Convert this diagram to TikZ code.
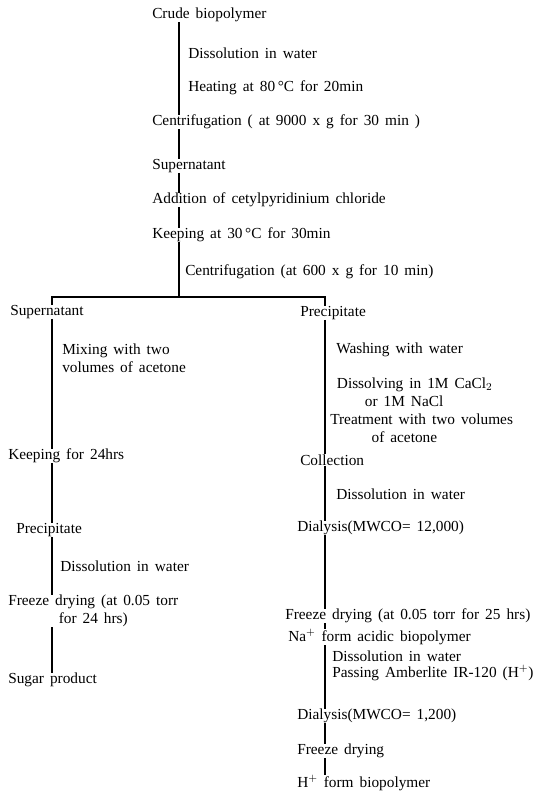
\documentclass[tikz,border=0pt]{standalone}
\usepackage{fontspec}
\setmainfont{Liberation Serif}
\usetikzlibrary{positioning,calc}
\newcommand{\flowfont}{\fontsize{11.5}{13.5}\selectfont\spaceskip=4.5pt plus 1pt minus 0.5pt\relax}

\begin{document}
\begin{tikzpicture}[
    x=0.75pt, y=-0.75pt,
    stage/.style={anchor=west, inner sep=0pt, align=left, font=\flowfont},
    link/.style={draw=black, line width=1pt},
]
    \useasboundingbox (0,0) rectangle (533,796);
    \coordinate (trunk) at (179,0);
    \coordinate (lbr) at (52,0);
    \coordinate (rbr) at (325,0);
    \coordinate (fork) at (0,297);

    % common part
    \node[stage] (crude) at (152,15) {Crude biopolymer};
    \node[stage] (dis1) at (188,53) {Dissolution in water};
    \node[stage] (heat) at (188,88) {Heating at 80\,°C for 20min};
    \node[stage] (cent1) at (152,122) {Centrifugation ( at 9000 x g for 30 min )};
    \node[stage] (sup1) at (152,166) {Supernatant};
    \node[stage] (add) at (152,200) {Addition of cetylpyridinium chloride};
    \node[stage] (keep1) at (152,235) {Keeping at 30\,°C for 30min};
    \node[stage] (cent2) at (185,272) {Centrifugation (at 600 x g for 10 min)};

    % left branch
    \node[stage] (sup2) at (10,312) {Supernatant};
    \node[stage] (mix) at (62,358) {Mixing with two\\volumes of acetone};
    \node[stage] (keep2) at (8,456) {Keeping for 24hrs};
    \node[stage] (prec1) at (16,530) {Precipitate};
    \node[stage] (dis2) at (60,566) {Dissolution in water};
    \node[stage, align=center] (freeze1) at (8,611) {Freeze drying (at 0.05 torr\\for 24 hrs)};
    \node[stage] (sugar) at (8,680) {Sugar product};

    % right branch
    \node[stage] (prec2) at (300,313) {Precipitate};
    \node[stage] (wash) at (336,350) {Washing with water};
    \node[stage] (dissolv) at (330,410) {\hspace*{5pt}Dissolving in 1M CaCl$_2$\\
        \hspace*{26pt}or 1M NaCl\\Treatment with two volumes\\\hspace*{31pt}of acetone};
    \node[stage] (coll) at (300,460) {Collection};
    \node[stage] (dis3) at (336,494) {Dissolution in water};
    \node[stage] (dial1) at (297,528) {Dialysis(MWCO= 12,000)};
    \node[stage] (freeze2) at (285,616) {Freeze drying (at 0.05 torr for 25 hrs)};
    \node[stage] (na) at (288,637) {Na$^{+}$ form acidic biopolymer};
    \node[stage] (ion) at (332,666) {Dissolution in water\\[-1.5pt]Passing Amberlite IR-120 (H$^{+}$)};
    \node[stage] (dial2) at (297,716) {Dialysis(MWCO= 1,200)};
    \node[stage] (freeze3) at (297,751) {Freeze drying};
    \node[stage] (hform) at (297,783) {H$^{+}$ form biopolymer};

    % connectors
    \draw[link] (crude.south -| trunk) -- (cent1.north -| trunk);
    \draw[link] (cent1.south -| trunk) -- (sup1.north -| trunk);
    \draw[link] (sup1.south -| trunk) -- (add.north -| trunk);
    \draw[link] (add.south -| trunk) -- (keep1.north -| trunk);
    \draw[link] (keep1.south -| trunk) -- (fork -| trunk);
    \draw[link] (sup2.north -| lbr) |- (fork -| rbr) -- (prec2.north -| rbr);

    \draw[link] (sup2.south -| lbr) -- (keep2.north -| lbr);
    \draw[link] (keep2.south -| lbr) -- (prec1.north -| lbr);
    \draw[link] (prec1.south -| lbr) -- (freeze1.north -| lbr);
    \draw[link] (freeze1.south -| lbr) -- (sugar.north -| lbr);

    \draw[link] (prec2.south -| rbr) -- (coll.north -| rbr);
    \draw[link] (coll.south -| rbr) -- (dial1.north -| rbr);
    \draw[link] (dial1.south -| rbr) -- (freeze2.north -| rbr);
    \draw[link] (freeze2.south -| rbr) -- (na.north -| rbr);
    \draw[link] (na.south -| rbr) -- (dial2.north -| rbr);
    \draw[link] (dial2.south -| rbr) -- (freeze3.north -| rbr);
    \draw[link] (freeze3.south -| rbr) -- (hform.north -| rbr);
\end{tikzpicture}
\end{document}
